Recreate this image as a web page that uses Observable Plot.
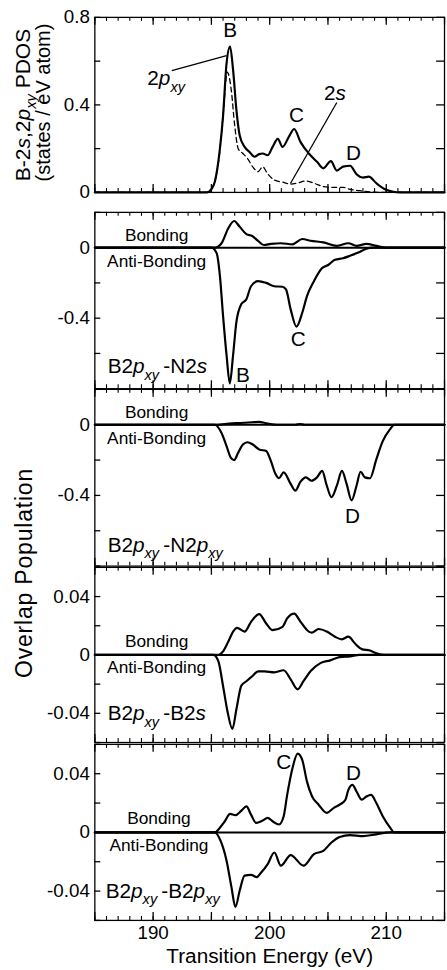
<!DOCTYPE html>
<html><head><meta charset="utf-8">
<script src="https://cdn.jsdelivr.net/npm/d3@7"></script>
<script src="https://cdn.jsdelivr.net/npm/@observablehq/plot@0.6"></script>
<style>
html,body{margin:0;padding:0;background:#fff;overflow:hidden}
#wrap{position:relative;width:447px;height:970px;overflow:hidden;font-family:"Liberation Sans",Arimo,Arial,Helvetica,sans-serif;color:#000}
#wrap svg{position:absolute;left:0}
</style></head><body><div id="wrap"></div>
<script>
// ---------- data (energy eV, value) ----------
const xDomain = [185, 215];
const xTickLabels = [190, 200, 210];
const xTitle = "Transition Energy (eV)";

const pdos2pxy = [[185,0],[194.6,0],[195.0,0.015],[195.3,0.05],[195.7,0.185],[196.0,0.35],[196.3,0.59],[196.6,0.667],[196.86,0.56],[197.14,0.38],[197.43,0.26],[197.85,0.208],[198.27,0.185],[198.7,0.163],[199.1,0.175],[199.4,0.178],[199.83,0.17],[200.25,0.208],[200.7,0.245],[201.1,0.208],[201.7,0.26],[202.1,0.29],[202.65,0.23],[203.36,0.178],[204.06,0.14],[204.6,0.11],[205.25,0.143],[205.76,0.10],[206.3,0.118],[206.9,0.122],[207.45,0.083],[208.0,0.068],[208.5,0.072],[209.15,0.042],[209.85,0.016],[210.6,0.003],[211.2,0],[215,0]];
const pdos2s = [[185,0],[194.6,0],[195.0,0.015],[195.3,0.05],[195.7,0.18],[196.0,0.35],[196.36,0.55],[196.7,0.47],[197.0,0.305],[197.3,0.2],[197.7,0.178],[198.1,0.155],[198.55,0.117],[199.0,0.095],[199.4,0.117],[199.8,0.087],[200.4,0.057],[201.1,0.047],[201.8,0.038],[202.4,0.043],[203.1,0.052],[203.8,0.042],[204.6,0.027],[205.5,0.023],[206.3,0.023],[206.9,0.014],[207.7,0.008],[208.6,0.002],[209.5,0],[215,0]];

const bpN2sBond = [[185,0],[195.3,0],[195.87,0.025],[196.44,0.109],[196.95,0.151],[197.43,0.118],[198.0,0.077],[198.5,0.066],[199.0,0.039],[199.5,0.015],[200.1,0.021],[200.96,0.025],[201.95,0.019],[202.8,0.049],[203.5,0.039],[204.6,0.03],[205.76,0.01],[206.75,0.025],[207.45,0.01],[208.3,0.021],[209.15,0.01],[210.0,0],[215,0]];
const bpN2sAnti = [[185,0],[195.0,0],[195.45,-0.031],[195.73,-0.16],[196.0,-0.387],[196.3,-0.61],[196.58,-0.77],[196.86,-0.61],[197.14,-0.424],[197.57,-0.32],[198.0,-0.293],[198.4,-0.219],[199.0,-0.19],[199.7,-0.2],[200.4,-0.219],[201.1,-0.222],[201.4,-0.237],[201.8,-0.35],[202.3,-0.448],[202.8,-0.368],[203.2,-0.275],[203.8,-0.19],[204.5,-0.116],[205.05,-0.097],[205.6,-0.069],[206.3,-0.06],[206.9,-0.046],[207.6,-0.028],[208.3,-0.006],[208.8,0],[215,0]];

const bpN2pBond = [[185,0],[195.5,0],[196.5,0.006],[197.5,0.01],[198.5,0.014],[199.1,0.016],[199.6,0.01],[200.2,0.002],[200.6,0],[202.2,0],[202.6,0.004],[203.0,0],[215,0]];
const bpN2pAnti = [[185,0],[195.3,0],[195.87,-0.047],[196.3,-0.121],[196.66,-0.186],[196.95,-0.2],[197.3,-0.158],[197.7,-0.112],[198.1,-0.099],[198.55,-0.112],[199.1,-0.14],[199.7,-0.149],[200.1,-0.205],[200.5,-0.279],[200.8,-0.303],[201.2,-0.27],[201.8,-0.335],[202.2,-0.373],[202.65,-0.322],[203.1,-0.298],[203.6,-0.317],[204.06,-0.298],[204.5,-0.261],[204.9,-0.345],[205.3,-0.41],[205.76,-0.345],[206.2,-0.261],[206.6,-0.335],[207.03,-0.428],[207.45,-0.345],[207.8,-0.266],[208.16,-0.298],[208.6,-0.303],[209.15,-0.196],[209.7,-0.093],[210.3,-0.028],[210.7,0],[215,0]];

const bpB2sBond = [[185,0],[195.6,0],[196.0,0.0024],[196.44,0.009],[196.86,0.016],[197.2,0.0186],[197.85,0.016],[198.4,0.0227],[199.1,0.028],[199.7,0.0216],[200.25,0.017],[201.1,0.0193],[201.5,0.025],[202.1,0.0283],[202.65,0.0227],[203.36,0.016],[203.6,0.0153],[204.2,0.0178],[204.9,0.016],[205.6,0.0125],[206.2,0.0107],[206.75,0.0125],[207.3,0.008],[207.9,0.004],[208.6,0.003],[209.15,0.0012],[209.85,0],[215,0]];
const bpB2sAnti = [[185,0],[195.17,0],[195.6,-0.0044],[196.0,-0.0213],[196.4,-0.0395],[196.8,-0.0507],[197.15,-0.037],[197.57,-0.021],[198.0,-0.018],[198.5,-0.0146],[199.0,-0.0112],[199.55,-0.0112],[200.4,-0.0119],[201.2,-0.0105],[201.8,-0.0168],[202.4,-0.0236],[202.9,-0.018],[203.5,-0.0112],[204.35,-0.0056],[205.2,-0.0037],[206.0,-0.0015],[206.9,-0.001],[207.7,0],[215,0]];

const bpB2pBond = [[185,0],[195.3,0],[195.73,0.0032],[196.15,0.0076],[196.6,0.0126],[197.06,0.0117],[197.57,0.0148],[198.0,0.0177],[198.4,0.0121],[198.84,0.0065],[199.4,0.0081],[199.83,0.0099],[200.25,0.0076],[200.8,0.0054],[201.2,0.011],[201.5,0.0256],[201.95,0.0436],[202.4,0.0537],[202.8,0.0492],[203.2,0.0346],[203.64,0.0245],[204.2,0.0189],[204.9,0.0133],[205.5,0.0167],[206.0,0.0189],[206.5,0.0223],[206.75,0.029],[207.1,0.0324],[207.45,0.0279],[207.9,0.0223],[208.3,0.0245],[208.7,0.0256],[209.15,0.02],[209.7,0.011],[210.3,0.0036],[210.7,0],[215,0]];
const bpB2pAnti = [[185,0],[195.3,0],[195.73,-0.0047],[196.3,-0.0193],[196.72,-0.0373],[197.06,-0.0508],[197.43,-0.0396],[197.85,-0.0295],[198.4,-0.029],[198.9,-0.0305],[199.2,-0.028],[199.83,-0.0216],[200.4,-0.0137],[200.96,-0.0227],[201.8,-0.0155],[202.9,-0.0227],[203.8,-0.0148],[204.6,-0.0126],[205.3,-0.0069],[206.0,-0.0032],[206.9,-0.0018],[208.0,-0.0025],[209.15,-0.0013],[210.3,0],[215,0]];

// annotations (data coordinates)
const p1Peaks = [{x:196.6,y:0.74,t:"B"},{x:202.3,y:0.35,t:"C"},{x:207.2,y:0.18,t:"D"}];
const p1Names = [{x:189.5,y:0.52,t:"2{p}[xy]"},{x:204.66,y:0.453,t:"2{s}"}];
const p1Pointers = [{x1:191.6,y1:0.557,x2:196.3,y2:0.625},{x1:205.76,y1:0.411,x2:201.78,y2:0.041}];
const p2Peaks = [{x:197.7,y:-0.725,t:"B"},{x:202.45,y:-0.52,t:"C"}];
const p3Peaks = [{x:207.1,y:-0.518,t:"D"}];
const p5Peaks = [{x:201.2,y:0.048,t:"C"},{x:207.2,y:0.04,t:"D"}];
const panelNames = ["B2{p}[xy]\u2009-N2{s}","B2{p}[xy]\u2009-N2{p}[xy]","B2{p}[xy]\u2009-B2{s}","B2{p}[xy]\u2009-B2{p}[xy]"];

// ---------- drawing ----------
const FONT = '"Liberation Sans", Arimo, Arial, Helvetica, sans-serif';
const wrap = document.getElementById("wrap");
const NS = "http://www.w3.org/2000/svg";

function richify(t) {
  const s = t.textContent;
  if (!/[{\[]/.test(s)) return;
  const fs = parseFloat(getComputedStyle(t).fontSize);
  while (t.firstChild) t.removeChild(t.firstChild);
  const re = /\{([^}]*)\}|\[([^\]]*)\]|([^{\[]+)/g;
  let m, shift = 0;
  while ((m = re.exec(s))) {
    const ts = document.createElementNS(NS, "tspan");
    let dy;
    if (m[2] !== undefined) {
      ts.textContent = m[2];
      ts.setAttribute("font-style", "italic");
      ts.setAttribute("font-size", (fs * 0.7) + "px");
      dy = fs * 0.3 - shift; shift = fs * 0.3;
    } else {
      ts.textContent = m[1] !== undefined ? m[1] : m[3];
      if (m[1] !== undefined) ts.setAttribute("font-style", "italic");
      dy = -shift; shift = 0;
    }
    if (dy) ts.setAttribute("dy", dy);
    t.appendChild(ts);
  }
}

const tf = d => String(+(+d).toFixed(4));

function panel(cfg) {
  const mt = 10, mb = cfg.showX ? 52 : 10, ml = 95.4, mr = 3, W = 452;
  const innerH = cfg.bottom - cfg.top, innerW = W - ml - mr;
  const height = innerH + mt + mb;
  const xMinor = d3.range(185, 216, 1), xMajor = d3.range(185, 216, 5);
  const marks = [
    Plot.ruleX(xMinor, {x: d => d, insetTop: innerH - 4, strokeWidth: 1.1}),
    Plot.ruleX(xMinor, {x: d => d, insetBottom: innerH - 4, strokeWidth: 1.1}),
    Plot.ruleX(xMajor, {x: d => d, insetTop: innerH - 8, strokeWidth: 1.3}),
    Plot.ruleX(xMajor, {x: d => d, insetBottom: innerH - 8, strokeWidth: 1.3}),
    Plot.ruleY(cfg.yTicks, {y: d => d, insetRight: innerW - 6, strokeWidth: 1.3}),
    Plot.ruleY(cfg.yTicks, {y: d => d, insetLeft: innerW - 8, strokeWidth: 1.3}),
    Plot.axisY(cfg.yLabels, {anchor: "left", tickSize: 0, tickPadding: 5, fontSize: 19, label: null, tickFormat: tf}),
    Plot.frame({strokeWidth: 1.3}),
    ...cfg.marks
  ];
  if (cfg.showX) {
    marks.push(Plot.axisX(xTickLabels, {anchor: "bottom", tickSize: 0, tickPadding: 5, fontSize: 19, label: null, tickFormat: tf}));
    marks.push(Plot.text([xTitle], {text: d => d, frameAnchor: "bottom", lineAnchor: "middle", dy: 36, fontSize: 21}));
  }
  const svg = Plot.plot({
    width: W, height, marginTop: mt, marginBottom: mb, marginLeft: ml, marginRight: mr,
    x: {domain: xDomain, axis: null},
    y: {domain: cfg.domain, axis: null},
    style: {fontFamily: FONT, background: "transparent", color: "#000", overflow: "visible"},
    marks
  });
  svg.style.top = (cfg.top - mt) + "px";
  wrap.appendChild(svg);
  svg.querySelectorAll("text").forEach(richify);
}

const line = (data, o = {}) => Plot.line(data, {x: d => d[0], y: d => d[1], curve: "monotone-x", strokeWidth: 2.2, ...o});
const txt = (data, o = {}) => Plot.text(data, {x: "x", y: "y", text: "t", fontSize: 21, ...o});
const bondLabels = (yb, ya, xc = 190.3) => [
  Plot.text([{x: xc, y: yb, t: "Bonding"}], {x: "x", y: "y", text: "t", fontSize: 17.5}),
  Plot.text([{x: xc, y: ya, t: "Anti-Bonding"}], {x: "x", y: "y", text: "t", fontSize: 17.5})
];
const nameLabel = (t, y, x = 186.1) => Plot.text([{x, y, t}], {x: "x", y: "y", text: "t", fontSize: 21, textAnchor: "start"});

// Panel 1: PDOS
panel({top: 17.3, bottom: 194.3, domain: [0, 0.8], yTicks: [0, 0.2, 0.4, 0.6, 0.8], yLabels: [0, 0.4, 0.8],
  marks: [
    line(pdos2s, {strokeWidth: 1.3, strokeDasharray: "5,3.5"}),
    line(pdos2pxy),
    Plot.link(p1Pointers, {x1: "x1", y1: "y1", x2: "x2", y2: "y2", strokeWidth: 1.3}),
    txt(p1Peaks),
    txt(p1Names, {textAnchor: "start"})
  ]});

// Panel 2: B2pxy-N2s
panel({top: 212, bottom: 390.3, domain: [-0.8, 0.2], yTicks: [-0.8, -0.6, -0.4, -0.2, 0, 0.2], yLabels: [-0.4, 0],
  marks: [
    Plot.ruleY([0], {strokeWidth: 2}),
    line(bpN2sBond), line(bpN2sAnti),
    ...bondLabels(0.067, -0.079),
    nameLabel(panelNames[0], -0.675),
    txt(p2Peaks)
  ]});

// Panel 3: B2pxy-N2pxy
panel({top: 388.5, bottom: 567.2, domain: [-0.8, 0.2], yTicks: [-0.8, -0.6, -0.4, -0.2, 0, 0.2], yLabels: [-0.4, 0],
  marks: [
    Plot.ruleY([0], {strokeWidth: 2}),
    line(bpN2pBond), line(bpN2pAnti),
    ...bondLabels(0.067, -0.078),
    nameLabel(panelNames[1], -0.68),
    txt(p3Peaks)
  ]});

// Panel 4: B2pxy-B2s
panel({top: 567.2, bottom: 744.3, domain: [-0.06, 0.06], yTicks: [-0.06, -0.04, -0.02, 0, 0.02, 0.04, 0.06], yLabels: [-0.04, 0, 0.04],
  marks: [
    Plot.ruleY([0], {strokeWidth: 2}),
    line(bpB2sBond), line(bpB2sAnti),
    ...bondLabels(0.0095, -0.0083),
    nameLabel(panelNames[2], -0.0402)
  ]});

// Panel 5: B2pxy-B2pxy
panel({top: 744.3, bottom: 922.3, domain: [-0.06, 0.06], yTicks: [-0.06, -0.04, -0.02, 0, 0.02, 0.04, 0.06], yLabels: [-0.04, 0, 0.04], showX: true,
  marks: [
    Plot.ruleY([0], {strokeWidth: 2}),
    line(bpB2pBond), line(bpB2pAnti),
    ...bondLabels(0.0094, -0.0086, 190.5),
    nameLabel(panelNames[3], -0.0403, 185.93),
    txt(p5Peaks)
  ]});

// ---------- y-axis titles ----------
const ov = d3.create("svg").attr("width", 447).attr("height", 970).style("top", "0px")
  .style("font-family", FONT).style("pointer-events", "none");
const titles = [
  {x: 29.5, y: 105, t: "B-2{s},2{p}[xy] PDOS", fs: 21, ls: 0},
  {x: 49.5, y: 102.5, t: "(states / eV atom)", fs: 20, ls: 0},
  {x: 31.5, y: 573, t: "Overlap Population", fs: 23, ls: 0.8}
];
for (const d of titles) {
  ov.append("text").attr("transform", `translate(${d.x},${d.y}) rotate(-90)`)
    .attr("text-anchor", "middle").attr("font-size", d.fs).style("letter-spacing", d.ls + "px").text(d.t);
}
wrap.appendChild(ov.node());
ov.selectAll("text").each(function() { richify(this); });
</script></body></html>
